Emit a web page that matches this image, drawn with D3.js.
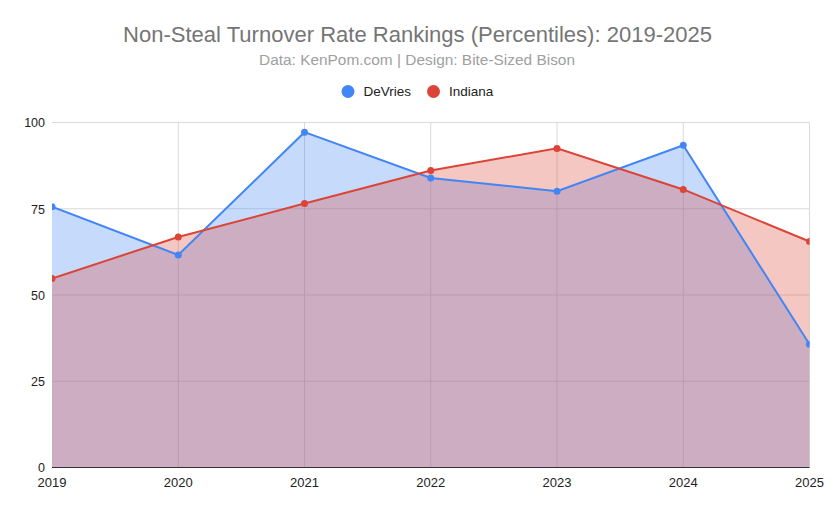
<!DOCTYPE html>
<html><head><meta charset="utf-8">
<script src="https://cdn.jsdelivr.net/npm/d3@7"></script>
<style>body{margin:0;background:#fff}svg{display:block}</style>
</head><body>
<svg id="c" width="833" height="509"></svg>
<script>
const years = ["2019","2020","2021","2022","2023","2024","2025"];
const devries = [75.6, 61.6, 97.2, 83.9, 80.1, 93.4, 35.7];
const indiana = [54.8, 66.8, 76.5, 86.1, 92.5, 80.6, 65.5];
const yTicks = [0, 25, 50, 75, 100];
const seriesNames = ["DeVries", "Indiana"];
const colors = ["#4285F4", "#DB4437"];
const title = "Non-Steal Turnover Rate Rankings (Percentiles): 2019-2025";
const subtitle = "Data: KenPom.com | Design: Bite-Sized Bison";

(function () {
const svg = d3.select("#c");
const pL = 52, pR = 809.5, pT = 122.5, pB = 467.5;
const x = d3.scalePoint().domain(years).range([pL, pR]);
const y = d3.scaleLinear().domain([0, 100]).range([pB, pT]);
const font = "Arial, 'Liberation Sans', sans-serif";

svg.append("defs").append("clipPath").attr("id", "clip").append("rect")
  .attr("x", pL).attr("y", pT - 10).attr("width", pR - pL).attr("height", pB - pT + 10);

svg.append("text").attr("x", 417.5).attr("y", 42).attr("text-anchor", "middle")
  .attr("font-family", font).attr("font-size", 22).attr("fill", "#757575")
  .attr("textLength", 589).attr("lengthAdjust", "spacingAndGlyphs").text(title);
svg.append("text").attr("x", 417).attr("y", 64.5).attr("text-anchor", "middle")
  .attr("font-family", font).attr("font-size", 15.3).attr("fill", "#a0a0a0")
  .attr("textLength", 316).attr("lengthAdjust", "spacingAndGlyphs").text(subtitle);

// legend
const leg = svg.append("g");
const legX = [348, 433.5];
seriesNames.forEach((n, i) => {
  leg.append("circle").attr("cx", legX[i]).attr("cy", 91.5).attr("r", 6.5).attr("fill", colors[i]);
  leg.append("text").attr("x", legX[i] + 15.5).attr("y", 96).attr("font-family", font)
    .attr("font-size", 13.5).attr("fill", "#222").text(n);
});

// gridlines
const g = svg.append("g");
g.selectAll(".hg").data(yTicks.filter(d => d > 0)).join("line")
  .attr("x1", pL).attr("x2", pR).attr("y1", d => y(d)).attr("y2", d => y(d))
  .attr("stroke", "#d9d9d9").attr("stroke-width", 1);
g.selectAll(".vg").data(years.slice(1)).join("line")
  .attr("x1", d => x(d)).attr("x2", d => x(d)).attr("y1", pT).attr("y2", pB)
  .attr("stroke", "#d9d9d9").attr("stroke-width", 1);

const data = [devries, indiana];
const area = d3.area().x((d, i) => x(years[i])).y0(y(0)).y1(d => y(d));
const line = d3.line().x((d, i) => x(years[i])).y(d => y(d));
const plot = svg.append("g").attr("clip-path", "url(#clip)");

data.forEach((s, i) => {
  plot.append("path").attr("d", area(s)).attr("fill", colors[i]).attr("fill-opacity", 0.3);
});
data.forEach((s, i) => {
  plot.append("path").attr("d", line(s)).attr("fill", "none").attr("stroke", colors[i]).attr("stroke-width", 2);
  plot.append("g").selectAll("circle").data(s).join("circle")
    .attr("cx", (d, j) => x(years[j])).attr("cy", d => y(d)).attr("r", 3.5).attr("fill", colors[i]);
});

// baseline
svg.append("line").attr("x1", pL).attr("x2", pR).attr("y1", pB).attr("y2", pB)
  .attr("stroke", "#333").attr("stroke-width", 1);

// axes labels
svg.append("g").selectAll("text").data(yTicks).join("text")
  .attr("x", 45).attr("y", d => y(d) + 4.8).attr("text-anchor", "end")
  .attr("font-family", font).attr("font-size", 12.5).attr("fill", "#222").text(d => d);
svg.append("g").selectAll("text").data(years).join("text")
  .attr("x", d => x(d)).attr("y", 487).attr("text-anchor", "middle")
  .attr("font-family", font).attr("font-size", 13).attr("fill", "#222").text(d => d);
})();
</script>
</body></html>
